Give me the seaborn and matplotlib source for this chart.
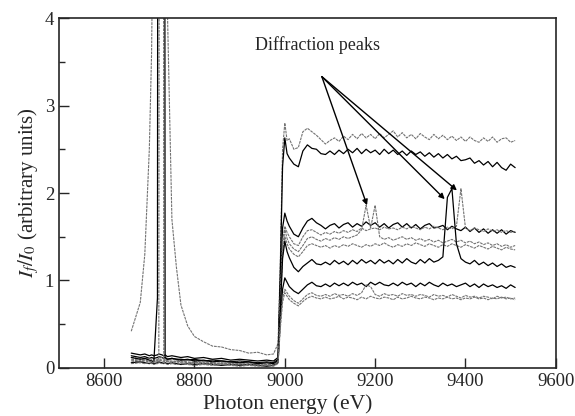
import matplotlib
matplotlib.use("Agg")
import matplotlib.pyplot as plt
import seaborn as sns
import pandas as pd

# energy grid (eV): pre-edge part, then the post-edge scan
E_PRE = [8660, 8680, 8690, 8700, 8705, 8710, 8718, 8721, 8728, 8732, 8735, 8740,
         8750, 8760, 8770, 8785, 8800, 8820, 8840, 8860, 8880, 8900, 8920, 8940,
         8960, 8975, 8985]
E_POST = [8990, 8995, 9000, 9005] + list(range(9010, 9520, 10))
ENERGY = E_PRE + E_POST

# If/I0, one list per scan (pre-edge + post-edge)
g_top = [.42, .75, 1.3, 2.5, 3.6, 6, 12, 14, 14, 12, 8, 4.1, 1.7, 1.15, .72, .48, .36, .3, .25, .24, .21, .2, .17, .18, .15, .16, .28] + \
    [1.2, 2.5, 2.8, 2.6, 2.62, 2.5, 2.52, 2.7, 2.74, 2.7, 2.66, 2.61, 2.56, 2.6, 2.63, 2.59, 2.65, 2.61, 2.67, 2.62, 2.68,
     2.63, 2.67, 2.62, 2.68, 2.63, 2.67, 2.71, 2.64, 2.69, 2.63, 2.67, 2.62, 2.68, 2.64, 2.61, 2.67, 2.62, 2.66, 2.61, 2.65,
     2.6, 2.64, 2.59, 2.64, 2.6, 2.58, 2.63, 2.59, 2.64, 2.58, 2.62, 2.63, 2.58, 2.6]
k_top = [.17, .15, .16, .14, .15, .14, .15, .16, .15, .14, .15, .13, .14, .13, .12, .13, .11, .12, .1, .11, .09, .1, .09, .08, .09, .08, .12] + \
    [1.1, 2.3, 2.63, 2.45, 2.4, 2.33, 2.3, 2.48, 2.55, 2.51, 2.5, 2.45, 2.44, 2.48, 2.44, 2.49, 2.45, 2.5, 2.46, 2.51, 2.45,
     2.5, 2.46, 2.49, 2.44, 2.5, 2.45, 2.49, 2.44, 2.48, 2.43, 2.48, 2.44, 2.47, 2.42, 2.46, 2.41, 2.45, 2.4, 2.44, 2.39,
     2.42, 2.37, 2.38, 2.4, 2.34, 2.37, 2.32, 2.36, 2.3, 2.35, 2.29, 2.26, 2.33, 2.29]
k_a = [.14, .12, .13, .11, .12, .11, .12, .13, .12, .11, .12, .1, .11, .1, .1, .09, .1, .08, .09, .08, .07, .08, .07, .06, .07, .06, .1] + \
    [.9, 1.6, 1.77, 1.68, 1.62, 1.53, 1.5, 1.6, 1.68, 1.71, 1.66, 1.63, 1.59, 1.63, 1.65, 1.6, 1.64, 1.66, 1.61, 1.65, 1.62,
     1.67, 1.63, 1.66, 1.61, 1.65, 1.6, 1.64, 1.66, 1.61, 1.65, 1.6, 1.64, 1.59, 1.63, 1.65, 1.6, 1.61, 1.63, 1.58, 1.62,
     1.59, 1.57, 1.61, 1.56, 1.6, 1.55, 1.59, 1.54, 1.58, 1.54, 1.58, 1.53, 1.57, 1.55]
g_a = [.12, .11, .1, .11, .1, .09, .1, .11, .12, .1, .11, .09, .1, .09, .08, .09, .08, .07, .08, .07, .06, .07, .06, .05, .06, .05, .09] + \
    [.8, 1.45, 1.62, 1.55, 1.5, 1.42, 1.4, 1.5, 1.57, 1.58, 1.55, 1.52, 1.55, 1.53, 1.56, 1.54, 1.57, 1.55, 1.58, 1.56, 1.6,
     1.57, 1.59, 1.6, 1.58, 1.61, 1.59, 1.6, 1.58, 1.61, 1.59, 1.62, 1.6, 1.58, 1.61, 1.59, 1.62, 1.6, 1.58, 1.61, 1.59,
     1.62, 2.05, 1.6, 1.57, 1.6, 1.58, 1.56, 1.59, 1.56, 1.58, 1.55, 1.57, 1.55, 1.56]
g_b = [.1, .09, .1, .08, .09, .08, .09, .1, .09, .08, .09, .08, .08, .07, .08, .07, .06, .07, .06, .05, .06, .05, .04, .05, .04, .04, .08] + \
    [.75, 1.35, 1.58, 1.48, 1.42, 1.36, 1.33, 1.4, 1.48, 1.5, 1.47, 1.45, 1.48, 1.46, 1.49, 1.47, 1.5, 1.48, 1.5, 1.52, 1.58,
     1.86, 1.6, 1.86, 1.5, 1.47, 1.49, 1.46, 1.48, 1.5, 1.47, 1.49, 1.46, 1.48, 1.45, 1.47, 1.44, 1.46, 1.43, 1.45, 1.47,
     1.44, 1.46, 1.43, 1.45, 1.42, 1.44, 1.41, 1.43, 1.4, 1.42, 1.39, 1.41, 1.38, 1.4]
g_c = [.08, .07, .08, .07, .08, .07, .08, .1, 40, .12, .09, .08, .07, .08, .07, .06, .07, .06, .05, .06, .05, .04, .05, .04, .03, .04, .07] + \
    [.7, 1.28, 1.5, 1.42, 1.36, 1.3, 1.27, 1.33, 1.4, 1.42, 1.4, 1.38, 1.4, 1.37, 1.4, 1.38, 1.41, 1.39, 1.42, 1.4, 1.38,
     1.41, 1.39, 1.42, 1.4, 1.43, 1.4, 1.38, 1.41, 1.39, 1.42, 1.4, 1.43, 1.41, 1.39, 1.42, 1.4, 1.38, 1.41, 1.39, 1.42,
     1.4, 1.38, 1.41, 1.39, 1.37, 1.4, 1.38, 1.36, 1.39, 1.37, 1.35, 1.38, 1.36, 1.35]
k_c = [.12, .1, .11, .09, .08, .07, .8, 25, 25, 25, .12, .1, .11, .1, .09, .1, .08, .09, .07, .08, .07, .06, .07, .05, .06, .05, .09] + \
    [.65, 1.25, 1.45, 1.33, 1.26, 1.15, 1.1, 1.16, 1.2, 1.24, 1.19, 1.18, 1.21, 1.18, 1.23, 1.19, 1.22, 1.18, 1.23, 1.19, 1.24,
     1.2, 1.23, 1.19, 1.24, 1.2, 1.23, 1.19, 1.24, 1.2, 1.25, 1.21, 1.19, 1.24, 1.2, 1.25, 1.21, 1.23, 1.27, 1.95, 2.05,
     1.42, 1.25, 1.21, 1.19, 1.23, 1.18, 1.21, 1.17, 1.2, 1.16, 1.19, 1.15, 1.17, 1.15]
k_d = [.06, .07, .06, .05, .06, .05, .06, .07, .06, .05, .06, .05, .06, .05, .04, .05, .04, .05, .04, .03, .04, .03, .04, .03, .02, .03, .06] + \
    [.55, .9, 1.03, .98, .93, .88, .85, .9, .95, .98, .94, .93, .96, .93, .97, .94, .97, .94, .98, .95, .97,
     .93, .98, .95, .98, .95, .94, .97, .94, .98, .95, .97, .93, .97, .94, .98, .95, .93, .97, .94, .96,
     .93, .95, .97, .93, .96, .92, .96, .93, .95, .92, .94, .91, .95, .92]
g_d = [.09, .08, .09, .08, .07, .08, .07, .09, .08, .07, .08, .07, .06, .07, .06, .05, .06, .05, .04, .05, .04, .05, .04, .03, .04, .03, .07] + \
    [.5, .8, .9, .86, .82, .77, .74, .79, .84, .86, .83, .82, .84, .82, .85, .83, .84, .82, .85, .83, .86,
     .95, .93, .84, .82, .85, .83, .84, .82, .85, .83, .84, .82, .84, .83, .81, .84, .82, .83, .81, .84,
     .82, .8, .83, .81, .82, .8, .82, .81, .79, .82, .8, .81, .79, .8]
g_e = [.05, .06, .05, .06, .05, .04, .05, .06, .05, .06, .05, .04, .05, .04, .05, .04, .03, .04, .03, .04, .03, .02, .03, .02, .03, .02, .05] + \
    [.45, .75, .86, .82, .78, .74, .71, .76, .8, .82, .8, .79, .81, .79, .8, .82, .79, .81, .8, .78, .81,
     .79, .82, .8, .79, .81, .8, .78, .81, .79, .8, .82, .8, .79, .81, .8, .78, .8, .79, .81, .79,
     .8, .78, .8, .79, .81, .79, .8, .78, .8, .79, .81, .79, .8, .78]

scans = {"g_top": g_top, "k_top": k_top, "k_a": k_a, "g_a": g_a, "g_b": g_b,
         "g_c": g_c, "k_c": k_c, "k_d": k_d, "g_d": g_d, "g_e": g_e}

sns.set_style("ticks")
plt.rcParams["font.family"] = ["Liberation Serif", "DejaVu Serif"]
plt.rcParams["mathtext.fontset"] = "stix"

fig = plt.figure(figsize=(5.75, 4.16), dpi=100)
ax = fig.add_axes([0.1026, 0.1154, 0.864, 0.8413])

for name, vals in scans.items():
    assert len(vals) == len(ENERGY), name
    df = pd.DataFrame({"E": ENERGY, "I": vals})
    if name.startswith("k"):
        sns.lineplot(data=df, x="E", y="I", color="black", lw=0.9, ax=ax)
    else:
        sns.lineplot(data=df, x="E", y="I", color="0.45", lw=0.8,
                     linestyle=(0, (2.5, 0.8)), ax=ax)

ax.set_xlim(8500, 9600)
ax.set_ylim(0, 4)
ax.set_xticks([8600, 8800, 9000, 9200, 9400, 9600])
ax.set_yticks([0, 1, 2, 3, 4])
ax.set_yticks([0.5, 1.5, 2.5, 3.5], minor=True)
ax.tick_params(axis="both", which="major", direction="in", length=7, width=1, labelsize=13.5)
ax.tick_params(axis="y", which="minor", direction="in", length=4, width=1)
for s in ax.spines.values():
    s.set_linewidth(1.2)
    s.set_visible(True)

ax.set_xlabel("Photon energy (eV)", fontsize=15.5)
ax.xaxis.set_label_coords(0.46, -0.075)
ax.set_ylabel(r"$I_f/I_0$ (arbitrary units)", fontsize=15, labelpad=3)

# annotation with three arrows
src = (9082, 3.33)
heads = [(9182, 1.86), (9354, 1.93), (9381, 2.03)]
ax.text(9072, 3.69, "Diffraction peaks", fontsize=13, ha="center", va="center")
for h in heads:
    ax.annotate("", xy=h, xytext=src,
                arrowprops=dict(arrowstyle="-|>", color="black", lw=1.0,
                                mutation_scale=8, shrinkA=0, shrinkB=0))

fig.savefig("out.png", dpi=100)
